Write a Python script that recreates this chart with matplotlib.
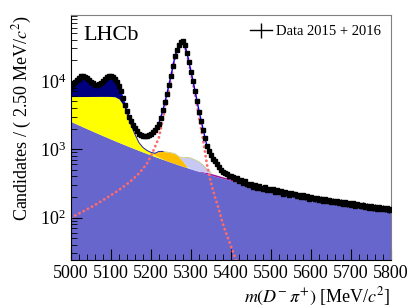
import numpy as np
import matplotlib
matplotlib.use('Agg')
import matplotlib.pyplot as plt
from matplotlib.lines import Line2D
from matplotlib.legend_handler import HandlerTuple
from matplotlib.ticker import MultipleLocator, LogLocator, NullFormatter

plt.rcParams['font.family'] = ['Liberation Serif', 'DejaVu Serif']
plt.rcParams['mathtext.fontset'] = 'stix'

# fit components on a 10 MeV grid, candidates per 2.5 MeV
m_first, m_step = 5000, 10
comb = [2550, 2398, 2256, 2123, 1999, 1884, 1775, 1674, 1579, 1491,
        1408, 1331, 1258, 1190, 1127, 1067, 1012, 960, 911, 865,
        822, 782, 745, 709, 676, 645, 616, 588, 563, 538,
        515, 494, 474, 455, 437, 420, 404, 389, 375, 362,
        349, 337, 326, 315, 305, 295, 286, 278, 270, 262,
        254, 247, 241, 234, 228, 222, 217, 211, 206, 201,
        197, 192, 188, 184, 180, 176, 172, 169, 165, 162,
        159, 156, 153, 150, 147, 144, 142, 139, 137, 134,
        132]
magenta_start = 5320
magenta = [6, 14, 20, 22, 22, 21, 20, 18, 16, 14, 12, 10, 8, 6, 4, 3, 2, 1]
yellow_start = 5000
yellow = [3350, 3502, 3644, 3787, 3911, 4036, 4145, 4256, 4351, 4439,
          4512, 4519, 4192, 3310, 2123, 1233, 638, 290, 149, 95,
          68, 40, 20, 8]
orange_start = 5200
orange = [10, 50, 165, 213, 234, 245, 244, 182, 100, 20]
lav_start = 5270
lav = [5, 87, 202, 230, 206, 175, 121, 53, 13]
navy_start = 5000
navy = [2260, 3493, 4985, 5767, 4958, 3638, 2727, 2804, 3890, 5174,
        5667, 4418, 2596, 820, 40]
sig_start = 5000
sig = [100, 107, 115, 123, 132, 142, 153, 166, 180, 196,
       213, 232, 254, 280, 310, 345, 390, 445, 520, 620,
       800, 1080, 1500, 2800, 5600, 11000, 22000, 33000, 38000, 25000,
       13000, 6500, 3000, 1400, 600, 320, 200, 130, 80, 55,
       38, 26, 18, 12, 8, 5, 3.5]

# data, 5 MeV spacing
data_first, data_step = 5000, 5
data = [8200, 8900, 9500, 10300, 11000, 11600, 11800, 11500, 11000, 10300,
        9700, 9200, 8800, 8700, 8900, 9400, 10000, 10700, 11300, 11700,
        11800, 11300, 10500, 9500, 8300, 7000, 5600, 4500, 3600, 3000,
        2600, 2300, 2050, 1850, 1700, 1630, 1580, 1560, 1580, 1620,
        1700, 1800, 1930, 2100, 2350, 2850, 3700, 4900, 6500, 8800,
        11900, 16500, 22800, 28500, 33700, 37500, 38600, 33500, 25600, 19000,
        13600, 9800, 7100, 5000, 3550, 2600, 1930, 1450, 1120, 950,
        820, 730, 670, 600, 550, 500, 470, 455, 430, 405,
        400, 395, 370, 375, 345, 350, 320, 345, 315, 300,
        310, 285, 300, 275, 290, 270, 265, 280, 255, 265,
        250, 258, 240, 250, 235, 248, 225, 240, 232, 215,
        228, 218, 222, 205, 215, 200, 212, 198, 205, 190,
        200, 192, 185, 196, 183, 190, 178, 188, 175, 182,
        170, 178, 168, 175, 166, 172, 160, 168, 158, 165,
        155, 162, 150, 158, 152, 146, 155, 144, 150, 140,
        148, 138, 145, 136, 142, 135, 140, 132, 138, 130,
        136]

mass = m_first + m_step * np.arange(len(comb))


def on_grid(start, vals):
    out = np.zeros(len(mass))
    i = (start - m_first) // m_step
    out[i:i + len(vals)] = vals
    return out


c = np.array(comb, float)
mg = on_grid(magenta_start, magenta)
ye = on_grid(yellow_start, yellow)
orr = on_grid(orange_start, orange)
lv = on_grid(lav_start, lav)
nv = on_grid(navy_start, navy)
sg = on_grid(sig_start, sig)

fig = plt.figure(figsize=(4.11, 3.08), dpi=100)
ax = fig.add_axes([0.1727, 0.1558, 0.7786, 0.7955])
ax.set_yscale('log')

floor = 1.0
s1 = c
s2 = s1 + mg
s3 = s2 + ye
s4 = s3 + orr
s5 = s4 + lv
s6 = s5 + nv
total = s6 + sg

ax.fill_between(mass, floor, s1, color='#6666cc', lw=0)
ax.fill_between(mass, s1, s2, where=mg > 0, color='#a0109a', lw=0)
ax.fill_between(mass, s2, s3, where=ye > 0, color='#ffff00', lw=0)
ax.fill_between(mass, s3, s4, where=orr > 0, color='#ffbf00', lw=0)
ax.fill_between(mass, s4, s5, where=lv > 0, color='#c8c8f4', lw=0)
ax.fill_between(mass, s5, s6, where=nv > 0, color='#00007f', lw=0)
# thin outlines on top of the small peaking components
o = (orr > 0) | (lv > 0)
ax.plot(mass[o], s5[o], color='#c8c880', lw=0.6)
ax.plot(mass[:24], s6[:24], color='#2020a0', lw=0.7)

n_sig = len(sig)
ax.plot(mass[:n_sig], sg[:n_sig], color='#ff6a6a', lw=2.0, ls=(0, (0.1, 1.6)),
        dash_capstyle='round')
ax.plot(mass, total, color='#0000ff', lw=1.0)

dm = data_first + data_step * np.arange(len(data))
dv = np.array(data, float)
ax.errorbar(dm, dv, yerr=np.sqrt(dv), fmt='s', ms=2.8, color='k',
            elinewidth=0.9, capsize=0, zorder=5)

# legend proxy: horizontal bar plus vertical error bar with caps
hbar = Line2D([], [], color='k', lw=1.0)
vbar = ax.errorbar([], [], yerr=[], fmt='none', color='k', elinewidth=1.0,
                   capsize=2)
ax.legend([(hbar, vbar)], ['Data 2015 + 2016'], loc='upper right',
          frameon=False, fontsize=10.5, handlelength=1.5, handletextpad=0.3,
          borderaxespad=0.3, handler_map={tuple: HandlerTuple(ndivide=1)})

ax.text(0.04, 0.955, 'LHCb', transform=ax.transAxes, fontsize=16, va='top')

ax.set_xlim(5000, 5800)
ax.set_ylim(24, 92000)
ax.xaxis.set_major_locator(MultipleLocator(100))
ax.xaxis.set_minor_locator(MultipleLocator(20))
ax.yaxis.set_major_locator(LogLocator(base=10))
ax.yaxis.set_minor_locator(LogLocator(base=10, subs=np.arange(2, 10)))
ax.yaxis.set_minor_formatter(NullFormatter())
ax.tick_params(which='both', direction='in', top=False, right=False,
               labelsize=13)
ax.tick_params(which='major', length=8)
ax.tick_params(which='minor', length=4)
for side in ('top', 'right'):
    ax.spines[side].set_color('#808080')

ax.set_xlabel(r'$m(D^{-}\,\pi^{+})$ [MeV/$c^{2}$]', fontsize=13, loc='right',
              labelpad=3)
ax.set_ylabel(r'Candidates / ( 2.50 MeV/$c^{2}$)', fontsize=13, loc='top',
              labelpad=4)

fig.savefig('out.png', dpi=100)
